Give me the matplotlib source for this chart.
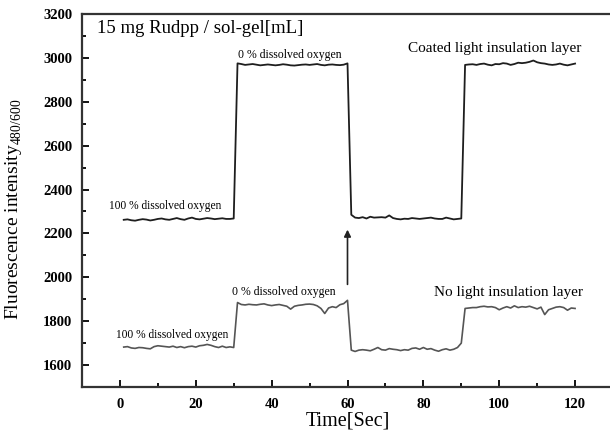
import matplotlib.pyplot as plt
import numpy as np

plt.rcParams['font.family'] = ['Liberation Serif', 'DejaVu Serif']
plt.rcParams['mathtext.fontset'] = 'custom'
plt.rcParams['mathtext.rm'] = 'Liberation Serif'

# 时间 (s)
t = np.arange(1, 121)

# 有遮光层
coated = [
    2262, 2264, 2260, 2258, 2262, 2265, 2263, 2259, 2262, 2266,
    2268, 2264, 2262, 2266, 2270, 2265, 2262, 2268, 2272, 2266,
    2264, 2267, 2270, 2268, 2265, 2267, 2269, 2266, 2266, 2268,
    2975, 2972, 2968, 2970, 2972, 2969, 2966, 2968, 2970, 2968,
    2966, 2968, 2971, 2969, 2966, 2965, 2967, 2969, 2970, 2968,
    2970, 2972, 2968, 2966, 2969, 2970, 2968, 2967, 2969, 2975,
    2285, 2272, 2270, 2274, 2268, 2276, 2272, 2273, 2274, 2272,
    2282, 2270, 2266, 2264, 2267, 2266, 2270, 2268, 2266, 2268,
    2270, 2272, 2268, 2266, 2266, 2272, 2268, 2264, 2266, 2268,
    2968, 2970, 2971, 2968, 2972, 2974, 2969, 2966, 2972, 2971,
    2976, 2974, 2968, 2972, 2978, 2976, 2978, 2982, 2988, 2980,
    2976, 2974, 2970, 2968, 2970, 2974, 2969, 2966, 2970, 2974,
]

# 无遮光层
uncoated = [
    1682, 1684, 1678, 1676, 1680, 1679, 1676, 1674, 1684, 1688,
    1686, 1684, 1682, 1686, 1680, 1684, 1679, 1684, 1686, 1682,
    1688, 1690, 1694, 1690, 1684, 1680, 1686, 1680, 1683, 1680,
    1885, 1876, 1874, 1877, 1875, 1874, 1877, 1879, 1874, 1871,
    1874, 1876, 1872, 1868, 1855, 1868, 1872, 1874, 1877, 1878,
    1876, 1870, 1858, 1835, 1860, 1866, 1862, 1875, 1880, 1895,
    1668, 1662, 1668, 1670, 1668, 1665, 1672, 1680, 1670, 1668,
    1675, 1672, 1670, 1666, 1670, 1668, 1676, 1678, 1672, 1680,
    1672, 1675, 1668, 1663, 1670, 1674, 1668, 1672, 1680, 1700,
    1858, 1860, 1862, 1862, 1866, 1868, 1865, 1866, 1862, 1852,
    1860, 1866, 1860, 1870, 1862, 1866, 1864, 1868, 1862, 1856,
    1864, 1830, 1852, 1858, 1864, 1866, 1862, 1850, 1860, 1858,
]

fig = plt.figure(figsize=(6.1, 4.37), dpi=100)
ax = fig.add_axes([82 / 610, 50 / 437, 531 / 610, 373 / 437])

ax.plot(t, coated, color='#1e1e1e', lw=1.3)
ax.plot(t, uncoated, color='#555555', lw=1.2)

ax.set_xlim(-10, 130)
ax.set_ylim(1500, 3200)
ax.set_xticks(np.arange(0, 121, 20))
ax.set_xticks(np.arange(10, 121, 20), minor=True)
ax.set_yticks(np.arange(1600, 3201, 200))
ax.set_yticks(np.arange(1500, 3201, 100), minor=True)
ax.tick_params(which='both', direction='in', top=False, right=False, width=1.3)
ax.tick_params(which='major', length=5, labelsize=10.5)
ax.tick_params(which='minor', length=3)
ax.tick_params(axis='y', which='major', pad=7)
ax.tick_params(axis='x', which='major', pad=8)
for lab in ax.get_xticklabels() + ax.get_yticklabels():
    lab.set_fontweight('bold')
for s in ax.spines.values():
    s.set_linewidth(1.6)
    s.set_color('#333333')

ax.set_xlabel('Time[Sec]', fontsize=14.5)
ax.set_ylabel('Fluorescence intensity$_{\\mathrm{480/600}}$', fontsize=14)
ax.xaxis.set_label_coords(0.5, -0.065)
ax.yaxis.set_label_coords(-0.109, 0.475)

# 标注
ax.text(-6, 3136, '15 mg Rudpp / sol-gel[mL]', fontsize=13.5, va='center')
ax.text(12, 2327, '100 % dissolved oxygen', fontsize=8.3, ha='center', va='center')
ax.text(44.8, 3014, '0 % dissolved oxygen', fontsize=8.5, ha='center', va='center')
ax.text(98.7, 3045, 'Coated light insulation layer', fontsize=11, ha='center', va='center')
ax.text(13.7, 1736, '100 % dissolved oxygen', fontsize=8.3, ha='center', va='center')
ax.text(43.3, 1932, '0 % dissolved oxygen', fontsize=8.5, ha='center', va='center')
ax.text(102.4, 1932, 'No light insulation layer', fontsize=11, ha='center', va='center')
ax.annotate('', xy=(60, 2230), xytext=(60, 1955),
            arrowprops=dict(arrowstyle='-|>', color='#222222', lw=1.2, mutation_scale=10))

fig.savefig('out.png', dpi=100)
